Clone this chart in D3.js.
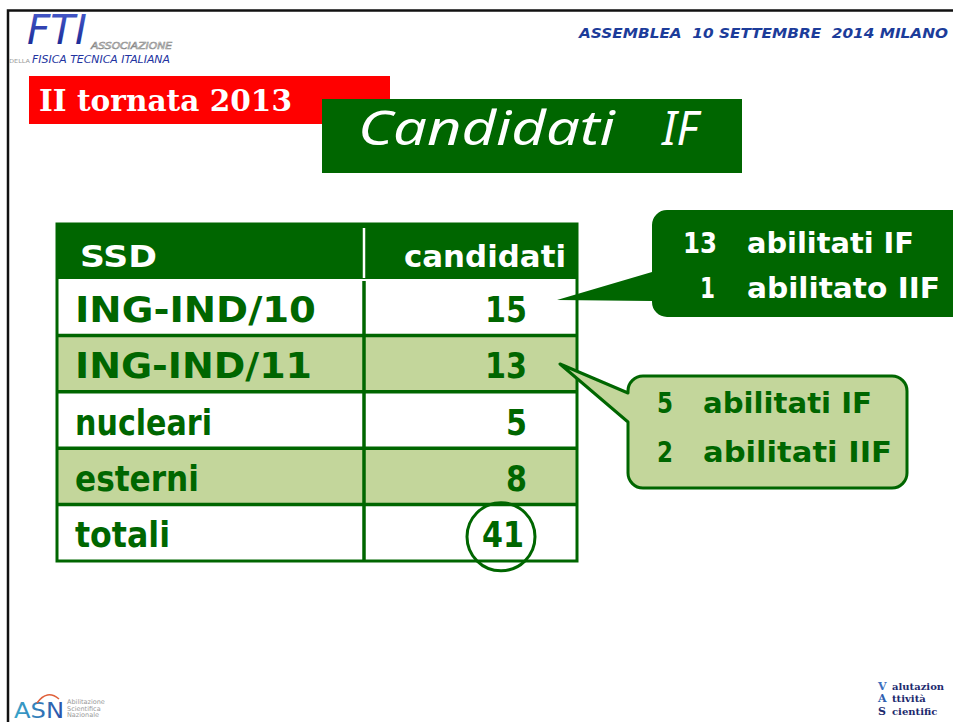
<!DOCTYPE html>
<html>
<head>
<meta charset="utf-8">
<script src="https://cdn.jsdelivr.net/npm/d3@7"></script>
<style>
  html, body { margin: 0; padding: 0; background: #ffffff; }
  svg { display: block; }
</style>
</head>
<body>
<div id="chart"></div>
<script>
// ---- data ----
const columns = ["SSD", "candidati"];
const ssd = ["ING-IND/10", "ING-IND/11", "nucleari", "esterni", "totali"];
const candidati = [15, 13, 5, 8, 41];
const callout1Numbers = ["13", "1"];
const callout1Labels = ["abilitati IF", "abilitato IIF"];
const callout2Numbers = ["5", "2"];
const callout2Labels = ["abilitati IF", "abilitati IIF"];
const headerText = "ASSEMBLEA  10 SETTEMBRE  2014 MILANO";
const tagText = "II tornata 2013";
const titleWords = ["Candidati", "IF"];

// ---- styling ----
const W = 953, H = 722;
const darkGreen = "#006600";
const lightGreen = "#c3d69b";
const comic = "'Comic Sans MS', 'DejaVu Sans', sans-serif";

const svg = d3.select("#chart").append("svg")
  .attr("width", W).attr("height", H)
  .attr("viewBox", `0 0 ${W} ${H}`);
const defs = svg.append("defs");

svg.append("rect").attr("width", W).attr("height", H).attr("fill", "#fff");

// slide border
svg.append("rect")
  .attr("x", 8).attr("y", 10.5).attr("width", 1000).attr("height", 800)
  .attr("fill", "none").attr("stroke", "#111").attr("stroke-width", 2.5);

// ---- FTI logo ----
const logo = svg.append("g");
const blueGrad = defs.append("linearGradient")
  .attr("id", "ftiGrad").attr("x1", "0").attr("y1", "0").attr("x2", "0").attr("y2", "1");
blueGrad.append("stop").attr("offset", "0").attr("stop-color", "#4a5ed0");
blueGrad.append("stop").attr("offset", "1").attr("stop-color", "#12208a");
logo.append("text").attr("x", 27).attr("y", 44)
  .attr("font-family", "'DejaVu Sans', sans-serif").attr("font-style", "italic")
  .attr("font-size", 40).attr("fill", "url(#ftiGrad)")
  .attr("textLength", 60).attr("lengthAdjust", "spacingAndGlyphs")
  .text("FTI");
logo.append("text").attr("x", 91).attr("y", 49)
  .attr("font-family", "'DejaVu Sans', sans-serif").attr("font-style", "italic")
  .attr("font-size", 9.5).attr("fill", "none").attr("stroke", "#8a8a8a").attr("stroke-width", 0.6)
  .attr("textLength", 81).attr("lengthAdjust", "spacingAndGlyphs")
  .text("ASSOCIAZIONE");
logo.append("text").attr("x", 9).attr("y", 63)
  .attr("font-family", "'DejaVu Sans', sans-serif").attr("font-size", 5.5).attr("fill", "#999")
  .attr("textLength", 21).attr("lengthAdjust", "spacingAndGlyphs")
  .text("DELLA");
logo.append("text").attr("x", 32).attr("y", 63)
  .attr("font-family", "'DejaVu Sans', sans-serif").attr("font-style", "italic")
  .attr("font-size", 10).attr("fill", "#2233a0")
  .attr("textLength", 138).attr("lengthAdjust", "spacingAndGlyphs")
  .text("FISICA TECNICA ITALIANA");

// ---- header text ----
svg.append("text").attr("x", 948).attr("y", 38).attr("text-anchor", "end")
  .attr("font-family", "'DejaVu Sans', sans-serif").attr("font-weight", "bold")
  .attr("font-style", "italic").attr("font-size", 14).attr("fill", "#1c3c9a")
  .attr("textLength", 369).attr("lengthAdjust", "spacingAndGlyphs")
  .attr("xml:space", "preserve")
  .text(headerText);

// ---- red tag ----
svg.append("rect").attr("x", 29).attr("y", 76).attr("width", 361).attr("height", 48).attr("fill", "#ff0000");
svg.append("text").attr("x", 39).attr("y", 111)
  .attr("font-family", "'DejaVu Serif', serif").attr("font-weight", "bold")
  .attr("font-size", 30).attr("fill", "#fff")
  .attr("textLength", 253).attr("lengthAdjust", "spacingAndGlyphs")
  .text(tagText);

// ---- green title ----
svg.append("rect").attr("x", 322).attr("y", 99).attr("width", 420).attr("height", 74).attr("fill", darkGreen);
const titleX = [[358, 257], [662, 36]];
titleWords.forEach((w, i) => {
  svg.append("text").attr("x", titleX[i][0]).attr("y", 145)
    .attr("font-family", "'Noto Sans', sans-serif").attr("font-style", "italic")
    .attr("font-size", 48).attr("fill", "#fff")
    .attr("textLength", titleX[i][1]).attr("lengthAdjust", "spacingAndGlyphs")
    .text(w);
});

// ---- table ----
const tLeft = 57, tRight = 577, tDiv = 364;
const headTop = 224, headBottom = 279, tBottom = 561;
const y = d3.scaleBand().domain(ssd).range([headBottom, tBottom]).padding(0);
const table = svg.append("g");

table.append("rect").attr("x", tLeft).attr("y", headTop)
  .attr("width", tRight - tLeft).attr("height", headBottom - headTop).attr("fill", darkGreen);
table.append("line").attr("x1", tDiv).attr("x2", tDiv).attr("y1", headTop + 4).attr("y2", headBottom - 1)
  .attr("stroke", "#fff").attr("stroke-width", 2.5);

table.selectAll("rect.row").data(ssd).join("rect").attr("class", "row")
  .attr("x", tLeft).attr("y", d => y(d))
  .attr("width", tRight - tLeft).attr("height", y.bandwidth())
  .attr("fill", (d, i) => i % 2 === 1 ? lightGreen : "#fff");

// horizontal lines
table.selectAll("line.h").data(ssd.slice(1)).join("line").attr("class", "h")
  .attr("x1", tLeft).attr("x2", tRight).attr("y1", d => y(d)).attr("y2", d => y(d))
  .attr("stroke", darkGreen).attr("stroke-width", 3.5);
// vertical divider in body
table.append("line").attr("x1", tDiv).attr("x2", tDiv).attr("y1", headBottom + 2).attr("y2", tBottom)
  .attr("stroke", darkGreen).attr("stroke-width", 3.5);
// outer border
table.append("rect").attr("x", tLeft).attr("y", headTop)
  .attr("width", tRight - tLeft).attr("height", tBottom - headTop)
  .attr("fill", "none").attr("stroke", darkGreen).attr("stroke-width", 3);

// header text
table.append("text").attr("x", 80).attr("y", 267)
  .attr("font-family", comic).attr("font-weight", "bold").attr("font-size", 31).attr("fill", "#fff")
  .attr("textLength", 77).attr("lengthAdjust", "spacingAndGlyphs")
  .text(columns[0]);
table.append("text").attr("x", 566).attr("y", 267).attr("text-anchor", "end")
  .attr("font-family", comic).attr("font-weight", "bold").attr("font-size", 31).attr("fill", "#fff")
  .attr("textLength", 162).attr("lengthAdjust", "spacingAndGlyphs")
  .text(columns[1]);

// row labels and values
const labelWidths = { "ING-IND/10": 241, "ING-IND/11": 237, "nucleari": 137, "esterni": 124, "totali": 95 };
const baselineOffset = 0.76;
table.selectAll("text.lab").data(ssd).join("text").attr("class", "lab")
  .attr("x", 75).attr("y", d => y(d) + y.bandwidth() * baselineOffset)
  .attr("font-family", comic).attr("font-weight", "bold").attr("font-size", 36).attr("fill", darkGreen)
  .attr("textLength", d => labelWidths[d]).attr("lengthAdjust", "spacingAndGlyphs")
  .text(d => d);

table.selectAll("text.val").data(ssd).join("text").attr("class", "val")
  .attr("x", (d, i) => i === ssd.length - 1 ? 524 : 527)
  .attr("y", d => y(d) + y.bandwidth() * baselineOffset)
  .attr("text-anchor", "end")
  .attr("font-family", comic).attr("font-weight", "bold").attr("font-size", 36).attr("fill", darkGreen)
  .attr("textLength", (d, i) => String(candidati[i]).length * 21)
  .attr("lengthAdjust", "spacingAndGlyphs")
  .text((d, i) => candidati[i]);

// circle around total
const lastRow = ssd[ssd.length - 1];
table.append("ellipse").attr("cx", 501).attr("cy", y(lastRow) + y.bandwidth() / 2 + 4)
  .attr("rx", 34).attr("ry", 34)
  .attr("fill", "none").attr("stroke", darkGreen).attr("stroke-width", 3);

// ---- callouts ----
function calloutPath(x0, y0, x1, y1, r, tipX, tipY, bTop, bBot) {
  return `M${x0 + r},${y0} H${x1 - r} A${r},${r} 0 0 1 ${x1},${y0 + r} V${y1 - r} ` +
    `A${r},${r} 0 0 1 ${x1 - r},${y1} H${x0 + r} A${r},${r} 0 0 1 ${x0},${y1 - r} ` +
    `V${bBot} L${tipX},${tipY} L${x0},${bTop} V${y0 + r} A${r},${r} 0 0 1 ${x0 + r},${y0} Z`;
}

svg.append("path")
  .attr("d", calloutPath(652, 210, 975, 317, 15, 557, 300, 272, 301))
  .attr("fill", darkGreen);

const c1Base = [253, 298];
const c1NumX = [[683, 34], [700, 15]];
const c1LabW = [167, 193];
callout1Numbers.forEach((n, i) => {
  svg.append("text").attr("x", c1NumX[i][0]).attr("y", c1Base[i])
    .attr("font-family", comic).attr("font-weight", "bold").attr("font-size", 28).attr("fill", "#fff")
    .attr("textLength", c1NumX[i][1]).attr("lengthAdjust", "spacingAndGlyphs").text(n);
  svg.append("text").attr("x", 747).attr("y", c1Base[i])
    .attr("font-family", comic).attr("font-weight", "bold").attr("font-size", 28).attr("fill", "#fff")
    .attr("textLength", c1LabW[i]).attr("lengthAdjust", "spacingAndGlyphs").text(callout1Labels[i]);
});

svg.append("path")
  .attr("d", calloutPath(628, 376, 907, 488, 15, 560, 364, 393, 422))
  .attr("fill", lightGreen).attr("stroke", darkGreen).attr("stroke-width", 3)
  .attr("stroke-linejoin", "round");

const c2Base = [413, 462];
const c2LabW = [169, 189];
callout2Numbers.forEach((n, i) => {
  svg.append("text").attr("x", 657).attr("y", c2Base[i])
    .attr("font-family", comic).attr("font-weight", "bold").attr("font-size", 28).attr("fill", darkGreen)
    .attr("textLength", 16).attr("lengthAdjust", "spacingAndGlyphs").text(n);
  svg.append("text").attr("x", 703).attr("y", c2Base[i])
    .attr("font-family", comic).attr("font-weight", "bold").attr("font-size", 28).attr("fill", darkGreen)
    .attr("textLength", c2LabW[i]).attr("lengthAdjust", "spacingAndGlyphs").text(callout2Labels[i]);
});

// ---- ASN logo (bottom left) ----
const asnGrad = defs.append("linearGradient")
  .attr("id", "asnGrad").attr("x1", "0").attr("y1", "0").attr("x2", "1").attr("y2", "0");
asnGrad.append("stop").attr("offset", "0").attr("stop-color", "#3aa6c9");
asnGrad.append("stop").attr("offset", "1").attr("stop-color", "#2a4fa8");
svg.append("text").attr("x", 14).attr("y", 718)
  .attr("font-family", "'DejaVu Sans', sans-serif").attr("font-size", 22).attr("fill", "url(#asnGrad)")
  .attr("textLength", 50).attr("lengthAdjust", "spacingAndGlyphs").text("ASN");
svg.append("path").attr("d", "M37,703 Q47,689 59,699").attr("fill", "none")
  .attr("stroke", "#e0603a").attr("stroke-width", 1.5);
["Abilitazione", "Scientifica", "Nazionale"].forEach((t, i) => {
  svg.append("text").attr("x", 67).attr("y", 704 + i * 6.5)
    .attr("font-family", "'DejaVu Sans', sans-serif").attr("font-size", 6.5).attr("fill", "#999")
    .text(t);
});

// ---- VAS logo (bottom right) ----
const vasCaps = [["V", 690, "#3b6fc0"], ["A", 702, "#2f5fb0"], ["S", 715, "#1d2a6e"]];
const vasRest = ["alutazion", "ttività", "cientific"];
vasCaps.forEach(([c, yy, col], i) => {
  svg.append("text").attr("x", 878).attr("y", yy)
    .attr("font-family", "'DejaVu Serif', serif").attr("font-weight", "bold").attr("font-size", 11)
    .attr("fill", col).text(c);
  svg.append("text").attr("x", 892).attr("y", yy)
    .attr("font-family", "'DejaVu Serif', serif").attr("font-weight", "bold").attr("font-size", 10)
    .attr("fill", "#1d2a6e").text(vasRest[i]);
});
</script>
</body>
</html>
